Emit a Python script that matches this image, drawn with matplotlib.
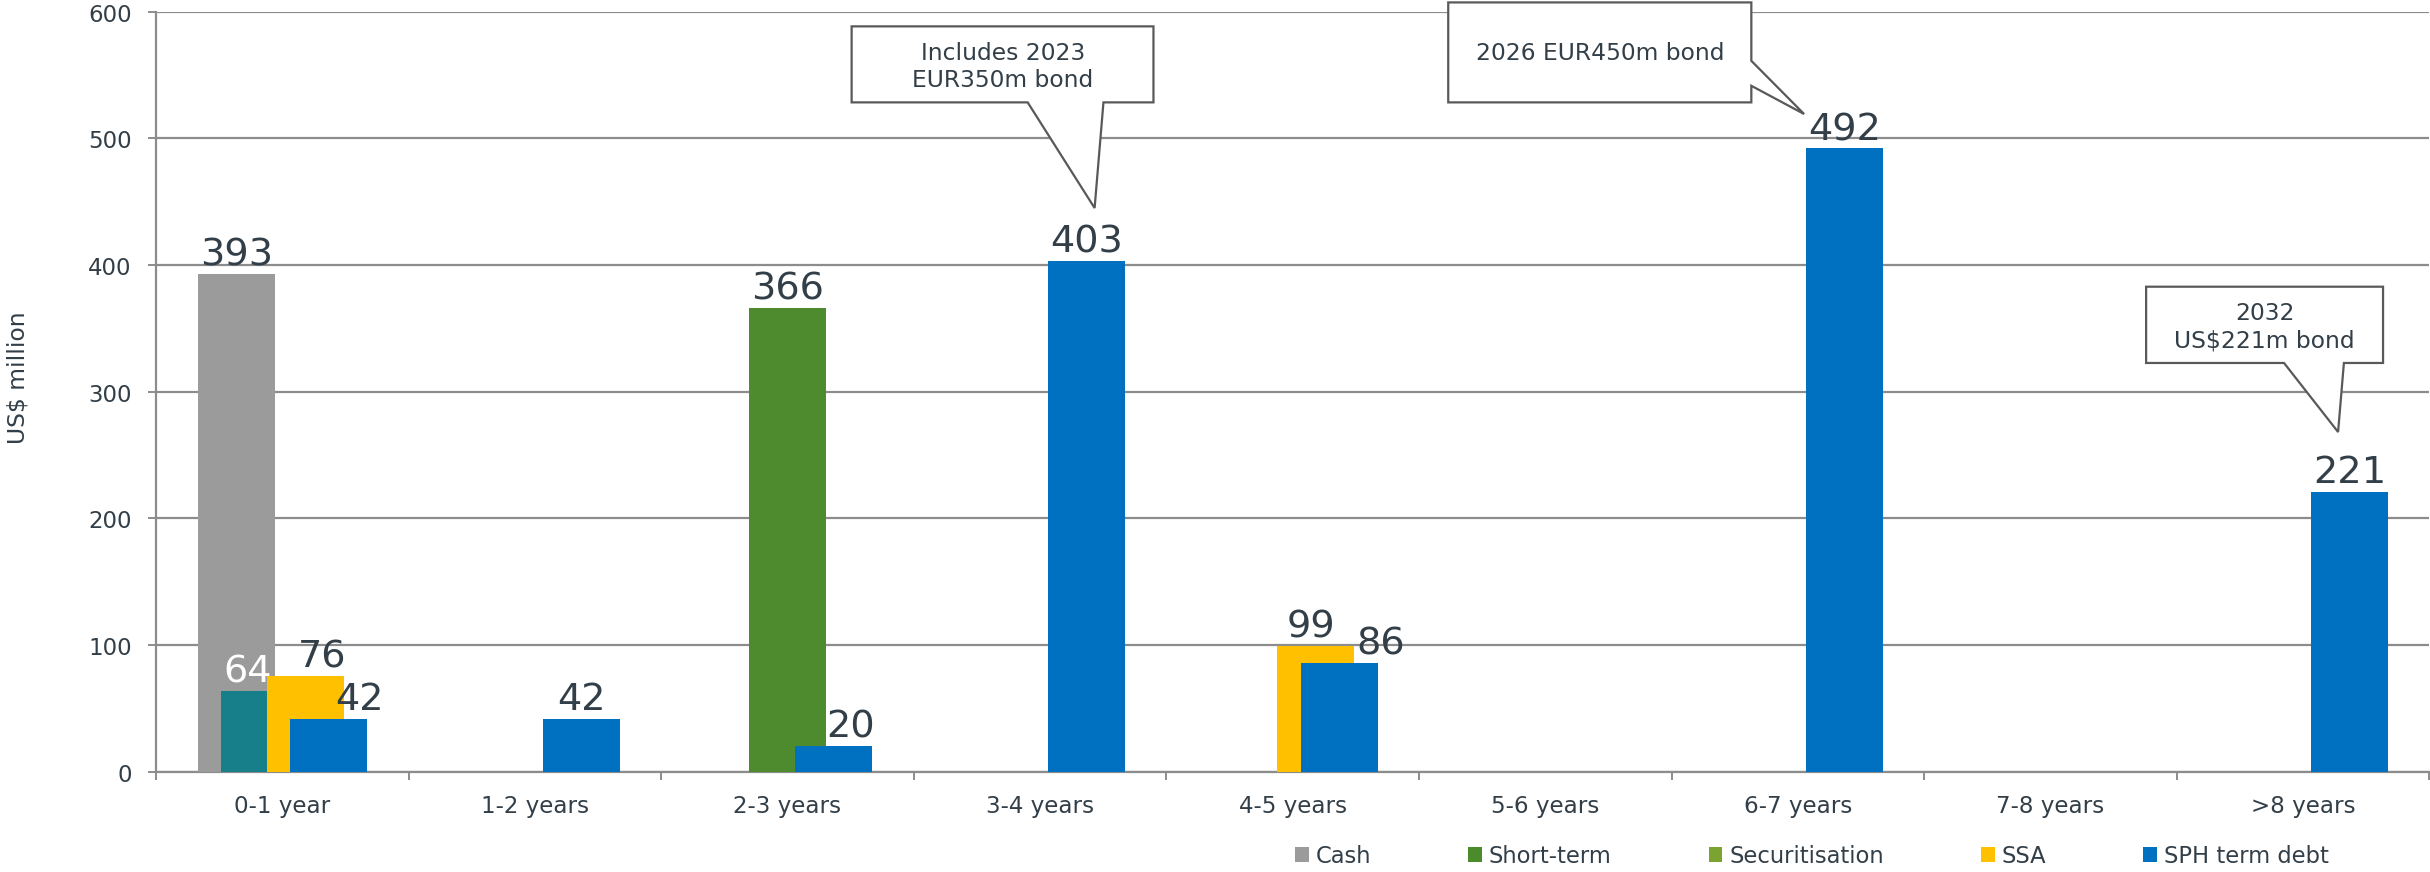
"""
plot.py - debt maturity profile, grouped/overlapped bars with callouts.
"""

import matplotlib
matplotlib.use("Agg")
import matplotlib.pyplot as plt
from matplotlib.patches import Patch, Polygon
import numpy as np

# ---------------------------------------------------------------------------
# data
# ---------------------------------------------------------------------------
categories = ["0-1 year", "1-2 years", "2-3 years", "3-4 years", "4-5 years",
              "5-6 years", "6-7 years", "7-8 years", ">8 years"]
series_names = ["Cash", "Short-term", "Securitisation", "SSA", "SPH term debt"]
cash = [393, 0, 0, 0, 0, 0, 0, 0, 0]
short_term = [64, 0, 0, 0, 0, 0, 0, 0, 0]
securitisation = [0, 0, 366, 0, 0, 0, 0, 0, 0]
ssa = [76, 0, 0, 0, 99, 0, 0, 0, 0]
sph_term_debt = [42, 42, 20, 403, 86, 0, 492, 0, 221]

# ---------------------------------------------------------------------------
# styling
# ---------------------------------------------------------------------------
TXT = "#333f48"
GRID = "#8c8c8c"
legend_colors = ["#9b9b9c", "#4b8b2b", "#7ba32f", "#ffc000", "#0070c0"]
bar_colors = ["#9b9b9c", "#177f89", "#4e8b2e", "#ffc000", "#0070c0"]
offsets = [-0.182, -0.091, 0.0, 0.091, 0.184]
BAR_W = 0.305

# manual nudges of some value labels (series index, category index) -> dx
label_dx = {(1, 0): -0.045, (3, 0): 0.066, (4, 0): 0.123,
            (4, 2): 0.065, (3, 4): -0.02, (4, 4): 0.166}
white_labels = {(1, 0)}

plt.rcParams["font.family"] = ["DejaVu Sans"]

fig = plt.figure(figsize=(24.3, 8.729), dpi=100)
ax = fig.add_axes([0.0642, 0.1148, 0.9355, 0.8708])

x = np.arange(len(categories))
all_series = [cash, short_term, securitisation, ssa, sph_term_debt]

for si, vals in enumerate(all_series):
    ax.bar(x + offsets[si], vals, width=BAR_W, color=bar_colors[si],
           zorder=3 + si)

# value labels
for si, vals in enumerate(all_series):
    for ci, v in enumerate(vals):
        if not v:
            continue
        dx = label_dx.get((si, ci), 0.0)
        col = "white" if (si, ci) in white_labels else TXT
        ax.annotate(f"{v}", (x[ci] + offsets[si] + dx, v),
                    xytext=(0, 1.0), textcoords="offset points",
                    ha="center", va="bottom", fontsize=27.5, color=col,
                    zorder=20)

# axes cosmetics
ax.set_xlim(-0.5, len(categories) - 0.5)
ax.set_ylim(0, 600)
ax.set_yticks(np.arange(0, 601, 100))
ax.yaxis.grid(True, color=GRID, linewidth=1.6, zorder=0)
ax.set_axisbelow(True)
ax.set_xticks(x)
ax.set_xticklabels(categories)
ax.set_xticks(np.arange(len(categories) + 1) - 0.5, minor=True)
ax.tick_params(axis="x", which="major", length=0, pad=16, labelsize=16.6,
               labelcolor=TXT)
ax.tick_params(axis="x", which="minor", length=6, width=1.4, color=GRID)
ax.tick_params(axis="y", length=6, width=1.4, color=GRID, pad=11.5,
               labelsize=16.5, labelcolor=TXT)
for side in ("top", "right"):
    ax.spines[side].set_visible(False)
for side in ("left", "bottom"):
    ax.spines[side].set_color(GRID)
    ax.spines[side].set_linewidth(1.6)

fig.text(18.3 / 2430, 1 - 377.5 / 873, "US$ million", rotation=90,
         ha="center", va="center", fontsize=16.8, color=TXT)


# ---------------------------------------------------------------------------
# callouts (speech-bubble boxes), in data units
# ---------------------------------------------------------------------------
def callout(verts, text, tx, ty):
    ax.add_patch(Polygon(verts, closed=True, facecolor="white",
                         edgecolor="#595959", linewidth=1.6, zorder=30,
                         clip_on=False))
    ax.text(tx, ty, text, ha="center", va="center", fontsize=16.8,
            color=TXT, zorder=31, linespacing=1.2, clip_on=False)


# 3-4 years: tail from bottom edge down to the 403 label
callout([(2.254, 588.4), (3.449, 588.4), (3.449, 528.4), (3.251, 528.4),
         (3.216, 445.0), (2.951, 528.4), (2.254, 528.4)],
        "Includes 2023\nEUR350m bond", 2.852, 557.0)
# 6-7 years: tail from right edge to the 492 label
callout([(4.616, 607.3), (5.816, 607.3), (5.816, 561.2), (6.025, 519.2),
         (5.816, 541.5), (5.816, 528.4), (4.616, 528.4)],
        "2026 EUR450m bond", 5.216, 567.5)
# >8 years: tail from bottom edge to the 221 label
callout([(7.379, 382.9), (8.317, 382.9), (8.317, 322.7), (8.162, 322.7),
         (8.139, 268.2), (7.925, 322.7), (7.379, 322.7)],
        "2032\nUS$221m bond", 7.848, 351.6)

# legend
handles = [Patch(facecolor=c, edgecolor="none") for c in legend_colors]
fig.legend(handles, series_names, loc="center left",
           bbox_to_anchor=(1295 / 2430, 1 - 857 / 873), ncol=5,
           frameon=False, fontsize=16.3, labelcolor=TXT, handlelength=0.6,
           handleheight=0.6, handletextpad=0.3, columnspacing=4.3,
           borderpad=0, borderaxespad=0)

fig.savefig("out.png", dpi=100)
